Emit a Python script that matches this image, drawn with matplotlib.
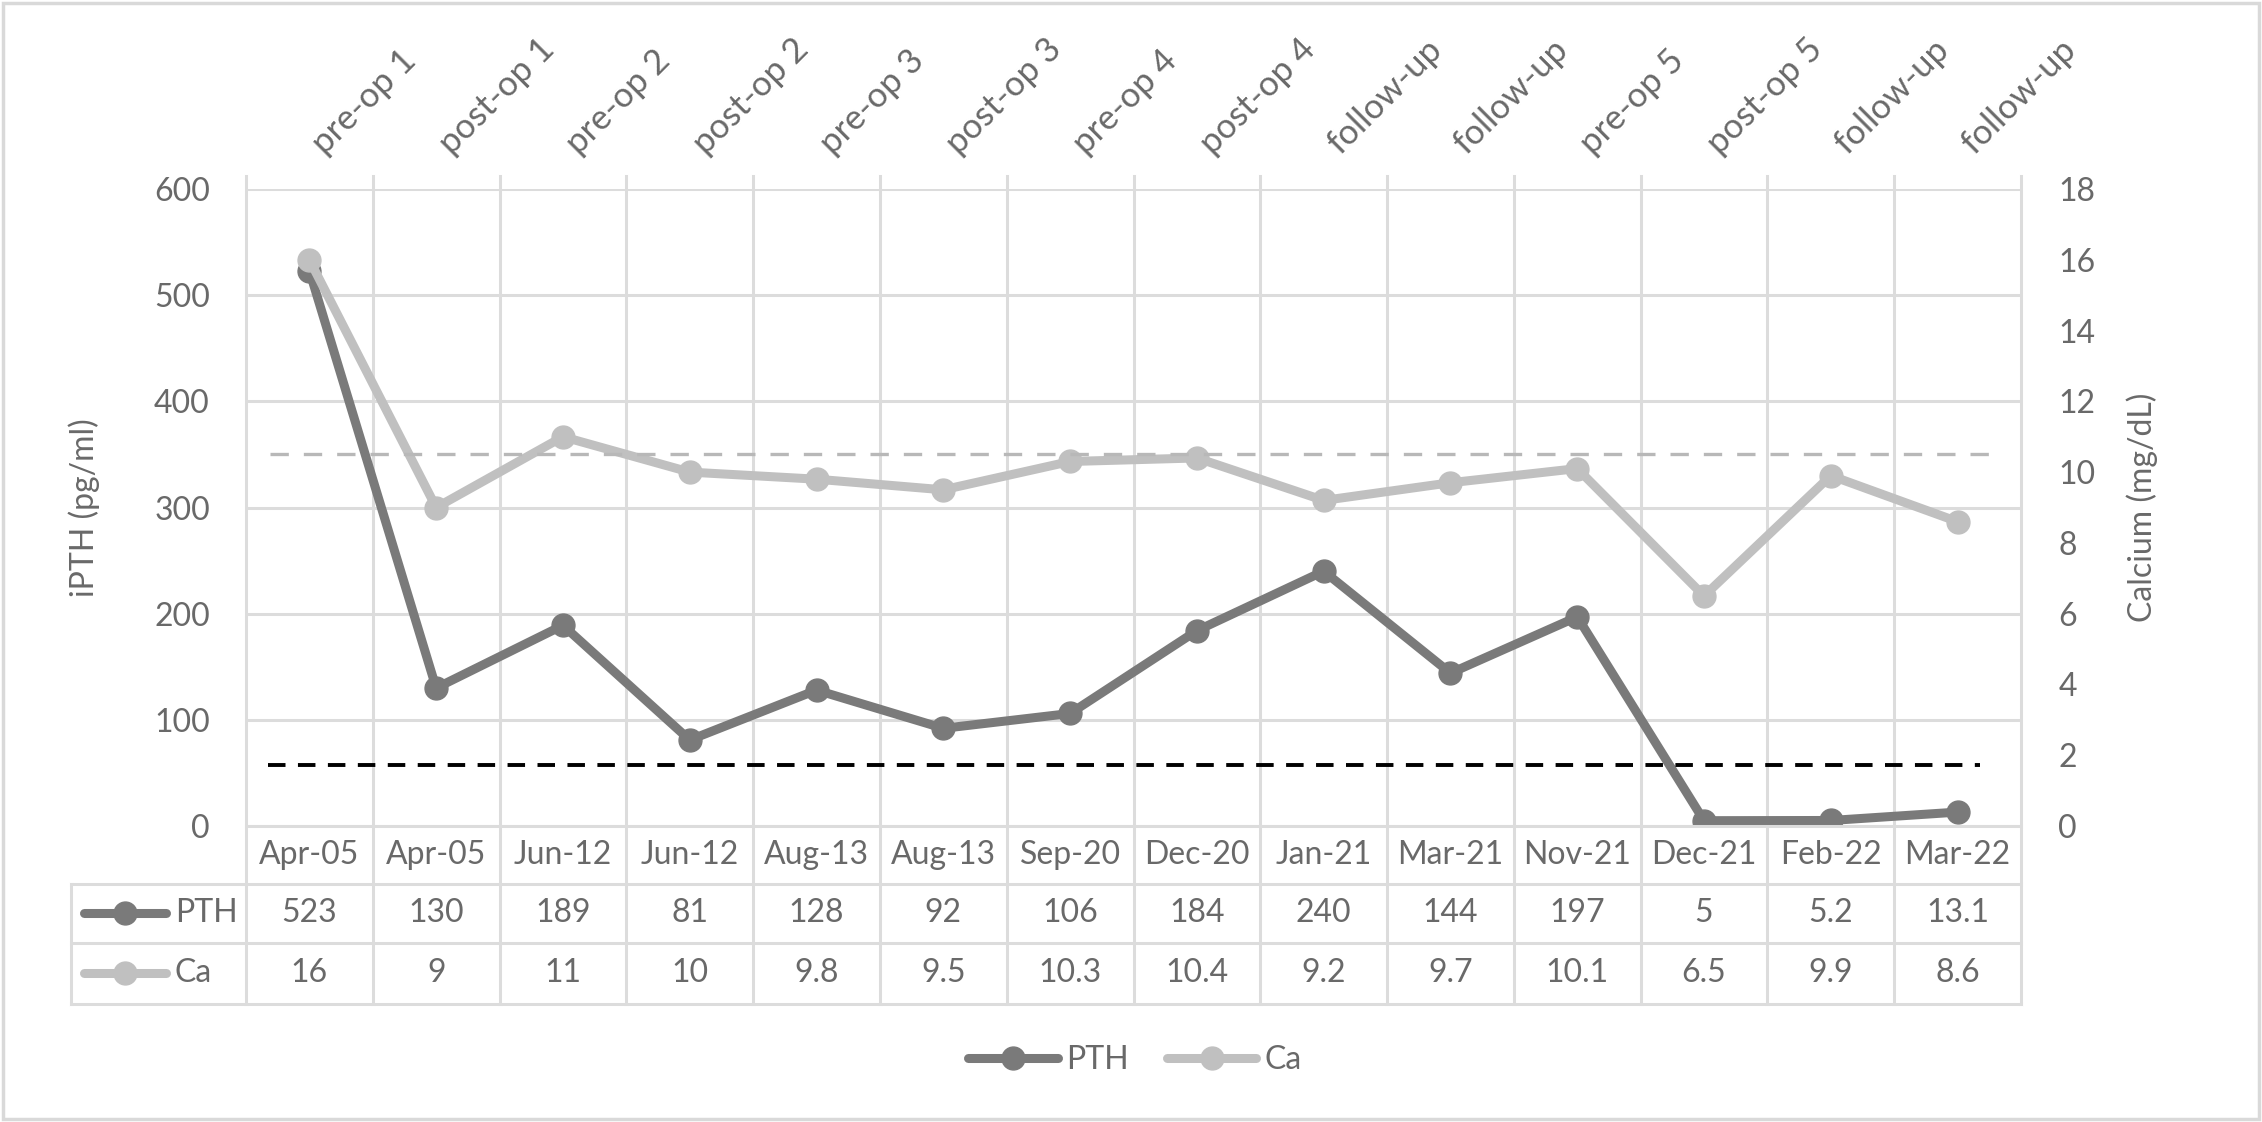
import matplotlib.pyplot as plt
from matplotlib.lines import Line2D
from matplotlib.patches import Rectangle
from matplotlib.transforms import blended_transform_factory

# data
dates = ["Apr-05", "Apr-05", "Jun-12", "Jun-12", "Aug-13", "Aug-13", "Sep-20",
         "Dec-20", "Jan-21", "Mar-21", "Nov-21", "Dec-21", "Feb-22", "Mar-22"]
phases = ["pre-op 1", "post-op 1", "pre-op 2", "post-op 2", "pre-op 3", "post-op 3",
          "pre-op 4", "post-op 4", "follow-up", "follow-up", "pre-op 5", "post-op 5",
          "follow-up", "follow-up"]
pth = [523, 130, 189, 81, 128, 92, 106, 184, 240, 144, 197, 5, 5.2, 13.1]
ca = [16, 9, 11, 10, 9.8, 9.5, 10.3, 10.4, 9.2, 9.7, 10.1, 6.5, 9.9, 8.6]
pth_labels = ["523", "130", "189", "81", "128", "92", "106", "184", "240", "144",
              "197", "5", "5.2", "13.1"]
ca_labels = ["16", "9", "11", "10", "9.8", "9.5", "10.3", "10.4", "9.2", "9.7",
             "10.1", "6.5", "9.9", "8.6"]
pth_ref = 57      # black dashed line (pg/ml)
ca_ref = 10.5     # grey dashed line (mg/dL)

W, H = 2262, 1122
TXT = "#696969"
GRID = "#dcdcdc"
C_PTH = "#7a7a7a"
C_CA = "#c0c0c0"
FS = 23

plt.rcParams["font.family"] = ["Lato", "DejaVu Sans"]

fig = plt.figure(figsize=(W / 100, H / 100), dpi=100)


def fx(px):
    return px / W


def fy(py):
    return 1 - py / H


left, right, top, bottom = 246, 2021, 189, 826
ax = fig.add_axes([fx(left), fy(bottom), fx(right - left), fy(top) - fy(bottom)])
ax2 = ax.twinx()

n = len(dates)
x = list(range(n))

ax.plot(x, pth, color=C_PTH, lw=6.5, marker="o", ms=16.5, zorder=3,
        solid_capstyle="round", solid_joinstyle="round")
ax2.plot(x, ca, color=C_CA, lw=6.5, marker="o", ms=16.5, zorder=3,
         solid_capstyle="round", solid_joinstyle="round")
ax.plot([-0.33, 13.18], [pth_ref, pth_ref], color="black", lw=2.8,
        dashes=(4.5, 3.2), zorder=5)
ax2.plot([-0.31, 13.36], [ca_ref, ca_ref], color="#b8b8b8", lw=2.4,
         dashes=(5.5, 4.5), zorder=5)

ax.set_xlim(-0.5, n - 0.5)
ax.set_ylim(0, 600)
ax2.set_ylim(0, 18)
ax.set_yticks(range(0, 601, 100))
ax2.set_yticks(range(0, 19, 2))
ax.set_xticks([])
ax.tick_params(axis="y", length=0, pad=26, labelsize=FS, labelcolor=TXT)
ax2.tick_params(axis="y", length=0, pad=27, labelsize=FS, labelcolor=TXT)
ax.grid(axis="y", color=GRID, lw=2.2)
ax.set_axisbelow(True)
for a in (ax, ax2):
    for s in a.spines.values():
        s.set_visible(False)

ax.set_ylabel("iPTH (pg/ml)", fontsize=FS, color=TXT, labelpad=39)
ax2.set_ylabel("Calcium (mg/dL)", fontsize=FS, color=TXT, labelpad=22)

# vertical grid / table lines, from just above the plot down through the table
bt = blended_transform_factory(ax.transData, fig.transFigure)
row_y = [826, 884, 943, 1004]
for b in range(n + 1):
    ax.add_line(Line2D([b - 0.5, b - 0.5], [fy(176), fy(row_y[-1])], transform=bt,
                       color=GRID, lw=2.2, clip_on=False, zorder=0))
for py in row_y:
    x0 = left if py == 826 else 71
    fig.add_artist(Line2D([fx(x0), fx(right)], [fy(py), fy(py)], color=GRID, lw=2.2))
fig.add_artist(Line2D([fx(71), fx(71)], [fy(884), fy(1004)], color=GRID, lw=2.2))

# table text and the rotated phase labels above the plot
for i in range(n):
    ax.text(i, fy(855), dates[i], transform=bt, ha="center", va="center",
            fontsize=FS, color=TXT)
    ax.text(i, fy(913), pth_labels[i], transform=bt, ha="center", va="center",
            fontsize=FS, color=TXT)
    ax.text(i, fy(973), ca_labels[i], transform=bt, ha="center", va="center",
            fontsize=FS, color=TXT)
    ax.text(i - 0.02, fy(160), phases[i], transform=bt, ha="left", va="bottom",
            rotation=45, fontsize=25, color=TXT)

# row keys in the table
for py, col, lab in [(913, C_PTH, "PTH"), (973, C_CA, "Ca")]:
    fig.add_artist(Line2D([fx(84), fx(166)], [fy(py), fy(py)], color=col, lw=6.5,
                          solid_capstyle="round"))
    fig.add_artist(Line2D([fx(125)], [fy(py)], color=col, marker="o", ms=16.5, lw=0))
    fig.text(fx(175), fy(py), lab, ha="left", va="center", fontsize=FS, color=TXT)

# legend
handles = [Line2D([], [], color=C_PTH, lw=6.5, marker="o", ms=16.5,
                  solid_capstyle="round"),
           Line2D([], [], color=C_CA, lw=6.5, marker="o", ms=16.5,
                  solid_capstyle="round")]
fig.legend(handles, ["PTH", "Ca"], loc="center", bbox_to_anchor=(fx(1135), fy(1060)),
           ncol=2, frameon=False, fontsize=FS, labelcolor=TXT, handlelength=2.8,
           handletextpad=0.25, columnspacing=1.2, borderpad=0)

# outer chart border
fig.add_artist(Rectangle((fx(3), fy(1119)), fx(2256), fy(3) - fy(1119),
                         fill=False, edgecolor="#d9d9d9", lw=2.5))

fig.savefig("out.png", dpi=100)
